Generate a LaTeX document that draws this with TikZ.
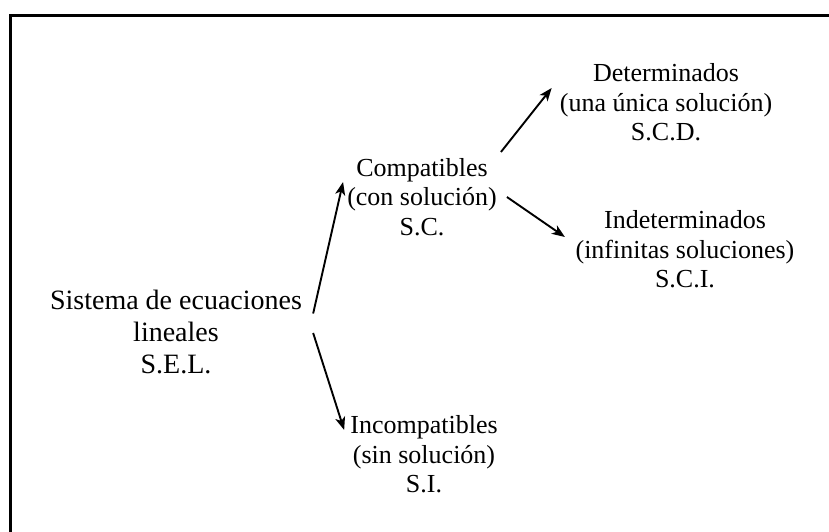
\documentclass[tikz,border=0pt]{standalone}
\usepackage{fontspec}
\setmainfont{Liberation Serif}
\usetikzlibrary{arrows.meta}
\begin{document}
\begin{tikzpicture}[x=1pt,y=-1pt,
  big/.style={align=center,inner sep=0pt,font=\fontsize{28}{32}\selectfont},
  txt/.style={align=center,inner sep=0pt,font=\fontsize{26}{29.5}\selectfont},
  conn/.style={line width=1.9pt,-{Stealth[length=13pt,width=10pt,inset=3.5pt]}},
  frame/.style={line width=3pt}]
\useasboundingbox (0,0) rectangle (829,532);
\fill[white] (0,0) rectangle (829,532);
\draw[frame] (10.5,532) -- (10.5,15.5) -- (829,15.5);
\node[big] (sel) at (176,331.5) {Sistema de ecuaciones\\lineales\\S.E.L.};
\node[txt] (comp) at (422,197) {Compatibles\\(con solución)\\S.C.};
\node[txt] (incomp) at (424,454.5) {Incompatibles\\(sin solución)\\S.I.};
\node[txt] (det) at (666,102.5) {Determinados\\(una única solución)\\S.C.D.};
\node[txt] (indet) at (685,249.5) {Indeterminados\\(infinitas soluciones)\\S.C.I.};
\draw[conn] ([shift={(11,-18)}]sel.east) -- ([shift={(-4,-15)}]comp.west);
\draw[conn] ([shift={(11,1.5)}]sel.east) -- ([shift={(-6,-24.5)}]incomp.west);
\draw[conn] ([shift={(4,-45)}]comp.east) -- ([shift={(-8,-14.5)}]det.west);
\draw[conn] ([shift={(10,0)}]comp.east) -- ([shift={(-10.5,-12.5)}]indet.west);
\end{tikzpicture}
\end{document}
